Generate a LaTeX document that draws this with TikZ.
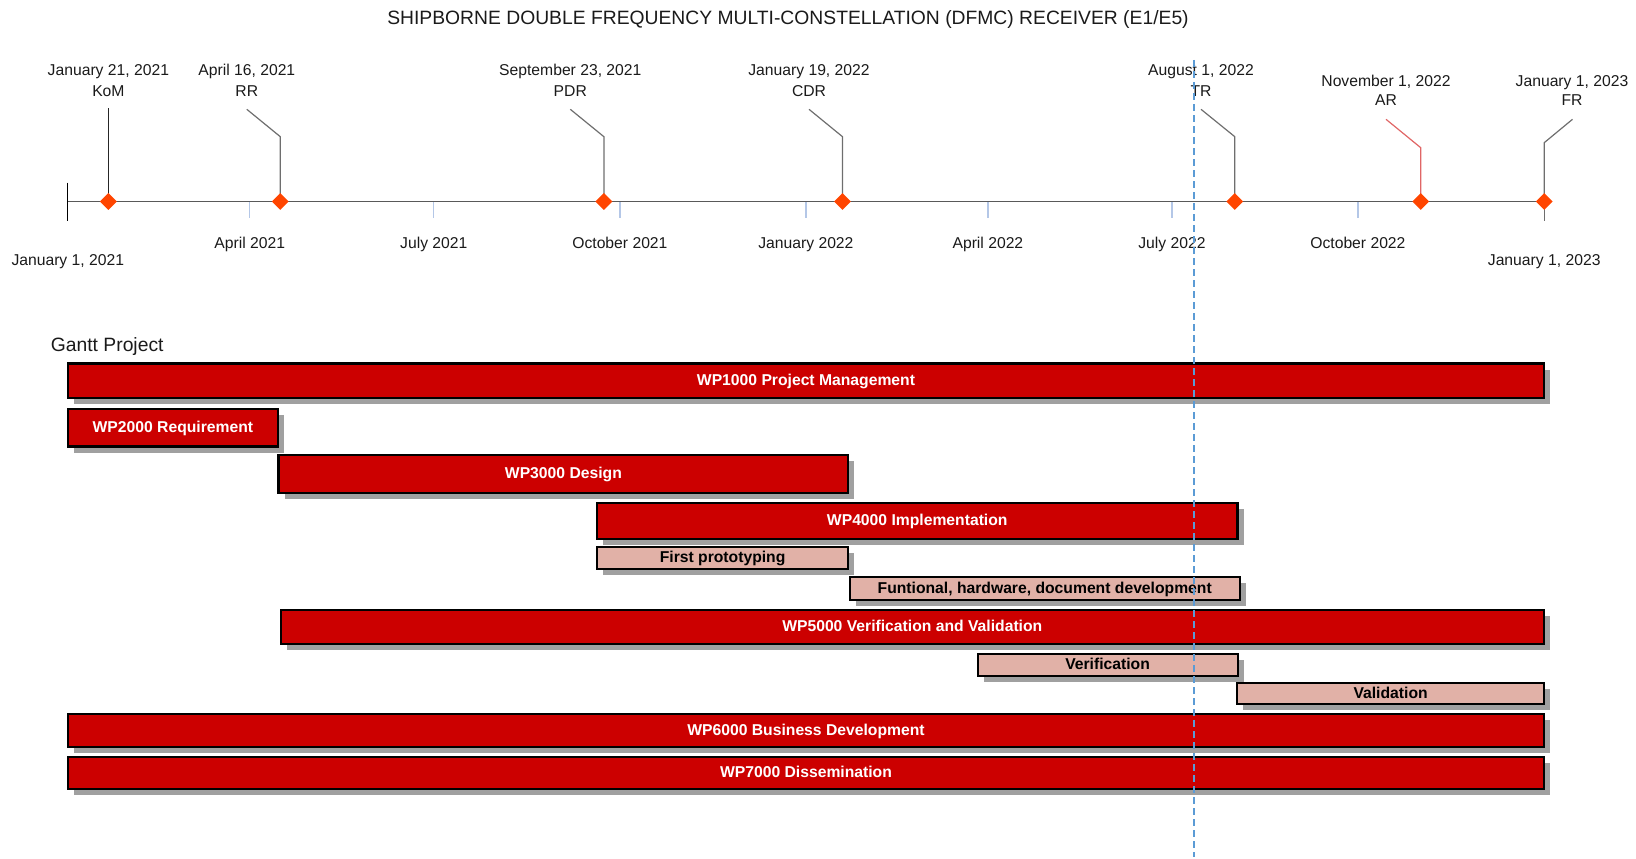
\documentclass[tikz,border=0pt]{standalone}
\usepackage{fontspec}
\setmainfont{Liberation Sans}
\usetikzlibrary{shapes.geometric,shadows}
\definecolor{barred}{HTML}{CC0000}
\definecolor{subfill}{HTML}{E1B1A7}
\definecolor{shadowgray}{HTML}{A0A0A0}
\definecolor{msorange}{HTML}{FF4500}
\definecolor{axisgray}{HTML}{595959}
\definecolor{tickblue}{HTML}{B4C7E7}
\definecolor{leadgray}{HTML}{6E6E6E}
\definecolor{arred}{HTML}{E06666}
\definecolor{todayblue}{HTML}{5B9BD5}
\definecolor{txt}{HTML}{1A1A1A}
\begin{document}
\begin{tikzpicture}[x=1pt,y=-1pt,
  lbl/.style={font=\fontsize{15.7}{18}\selectfont, text=txt, inner sep=0pt, outer sep=0pt, anchor=base},
  bigl/.style={font=\fontsize{19.3}{22}\selectfont, text=txt, inner sep=0pt, outer sep=0pt, anchor=base},
  mtick/.style={draw=tickblue, line width=1.3pt},
  leader/.style={draw=leadgray, line width=1.2pt},
  msdia/.style={diamond, aspect=1, fill=msorange, draw=none, inner sep=0pt, minimum size=17pt},
  barbase/.style={draw=black, line width=2.3pt, inner sep=0pt, outer sep=0pt, anchor=north west,
    font=\bfseries\fontsize{15.7}{18}\selectfont, text height=11.3pt, text depth=2.2pt,
    drop shadow={shadow xshift=6pt, shadow yshift=-6pt, fill=shadowgray, opacity=1}},
  mainbar/.style={barbase, fill=barred, text=white},
  subbar/.style={barbase, fill=subfill, text=black, line width=2pt}
]
\useasboundingbox (0,0) rectangle (1636,859);

% title
\node[bigl] (title) at (788,25) {SHIPBORNE DOUBLE FREQUENCY MULTI-CONSTELLATION (DFMC) RECEIVER (E1/E5)};

% axis
\coordinate (axstart) at (67.8,201.5);
\coordinate (axend) at (1544.2,201.5);
\coordinate (sttop) at (67.8,182.5);
\coordinate (stbot) at (67.8,220.7);
\coordinate (enbot) at (1544.2,220.7);
\foreach \n/\x in {apr21/249.8, jul21/433.8, oct21/619.9, jan22/805.9, apr22/987.9, jul22/1171.9, oct22/1357.9}{
  \coordinate (t\n) at (\x,201.5);
  \coordinate (b\n) at (\x,218);
  \draw[mtick] (t\n) -- (b\n);
}
\draw[draw=axisgray, line width=1.3pt] (axstart) -- (axend);
\draw[draw=black, line width=1.3pt] (sttop) -- (stbot);
\draw[leader] (axend) -- (enbot);

% axis labels
\node[lbl] (lapr21) at (249.8,248) {April 2021};
\node[lbl] (ljul21) at (433.8,248) {July 2021};
\node[lbl] (loct21) at (619.9,248) {October 2021};
\node[lbl] (ljan22) at (805.9,248) {January 2022};
\node[lbl] (lapr22) at (987.9,248) {April 2022};
\node[lbl] (ljul22) at (1171.9,248) {July 2022};
\node[lbl] (loct22) at (1357.9,248) {October 2022};
\node[lbl] (lstart) at (67.8,265.5) {January 1, 2021};
\node[lbl] (lend) at (1544.2,265.5) {January 1, 2023};

% milestones: points, bends, tops
\coordinate (pkom) at (108.4,201.5);  \coordinate (kkom) at (108.4,107.7);
\coordinate (prr) at (280.3,201.5);   \coordinate (brr) at (280.3,136.7);  \coordinate (krr) at (246.8,109.3);
\coordinate (ppdr) at (603.9,201.5);  \coordinate (bpdr) at (603.9,136.7); \coordinate (kpdr) at (570.3,109.3);
\coordinate (pcdr) at (842.5,201.5);  \coordinate (bcdr) at (842.5,136.7); \coordinate (kcdr) at (809,109.3);
\coordinate (ptr) at (1234.8,201.5);  \coordinate (btr) at (1234.8,136.7); \coordinate (ktr) at (1201,109.3);
\coordinate (par) at (1420.7,201.5);  \coordinate (bar) at (1420.7,147.7); \coordinate (kar) at (1386,119.3);
\coordinate (pfr) at (1544.2,201.5);  \coordinate (bfr) at (1544.2,142.7); \coordinate (kfr) at (1572.5,119.3);

\draw[leader, draw=black!85] (pkom) -- (kkom);
\draw[leader] (prr) -- (brr) -- (krr);
\draw[leader] (ppdr) -- (bpdr) -- (kpdr);
\draw[leader] (pcdr) -- (bcdr) -- (kcdr);
\draw[leader] (ptr) -- (btr) -- (ktr);
\draw[leader, draw=arred] (par) -- (bar) -- (kar);
\draw[leader] (pfr) -- (bfr) -- (kfr);

\node[msdia] (mkom) at (pkom) {};
\node[msdia] (mrr) at (prr) {};
\node[msdia] (mpdr) at (ppdr) {};
\node[msdia] (mcdr) at (pcdr) {};
\node[msdia] (mtr) at (ptr) {};
\node[msdia] (mar) at (par) {};
\node[msdia] (mfr) at (pfr) {};

% milestone labels
\node[lbl] (dkom) at (108.4,76) {January 21, 2021};
\node[lbl] (nkom) at (108.4,96) {KoM};
\node[lbl] (drr) at (246.8,76) {April 16, 2021};
\node[lbl] (nrr) at (246.8,96) {RR};
\node[lbl] (dpdr) at (570.3,76) {September 23, 2021};
\node[lbl] (npdr) at (570.3,96) {PDR};
\node[lbl] (dcdr) at (809,76) {January 19, 2022};
\node[lbl] (ncdr) at (809,96) {CDR};
\node[lbl] (dtr) at (1201,76) {August 1, 2022};
\node[lbl] (ntr) at (1201,96) {TR};
\node[lbl] (dar) at (1386,86) {November 1, 2022};
\node[lbl] (nar) at (1386,106) {AR};
\node[lbl] (dfr) at (1572,86) {January 1, 2023};
\node[lbl] (nfr) at (1572,106) {FR};

% gantt
\node[bigl, anchor=base west] (gantt) at (50.9,351.5) {Gantt Project};

\node[mainbar, minimum width=1476.4pt, minimum height=34.5pt] (wp1) at (67.8,363.5) {WP1000 Project Management};
\node[mainbar, minimum width=210.2pt, minimum height=37.5pt] (wp2) at (67.8,409) {WP2000 Requirement};
\node[mainbar, minimum width=569.6pt, minimum height=38pt] (wp3) at (278.6,455) {WP3000 Design};
\node[mainbar, minimum width=640.5pt, minimum height=36pt] (wp4) at (597,502.7) {WP4000 Implementation};
\node[subbar, minimum width=251.2pt, minimum height=22pt] (fp) at (597,547.3) {First prototyping};
\node[subbar, minimum width=390.2pt, minimum height=22.3pt] (fd) at (849.6,577.3) {Funtional, hardware, document development};
\node[mainbar, minimum width=1263.1pt, minimum height=34.2pt] (wp5) at (280.7,610) {WP5000 Verification and Validation};
\node[subbar, minimum width=259.8pt, minimum height=22pt] (ver) at (977.7,653.5) {Verification};
\node[subbar, minimum width=306.4pt, minimum height=21pt] (val) at (1237.4,683.3) {Validation};
\node[mainbar, minimum width=1476.4pt, minimum height=32.4pt] (wp6) at (67.8,714.3) {WP6000 Business Development};
\node[mainbar, minimum width=1476.4pt, minimum height=32.6pt] (wp7) at (67.8,756.7) {WP7000 Dissemination};

% today line
\coordinate (tdtop) at (1193.5,60);
\coordinate (tdbot) at (1193.5,857);
\draw[draw=todayblue, line width=2pt, dash pattern=on 7pt off 4pt] (tdtop) -- (tdbot);
\end{tikzpicture}
\end{document}
